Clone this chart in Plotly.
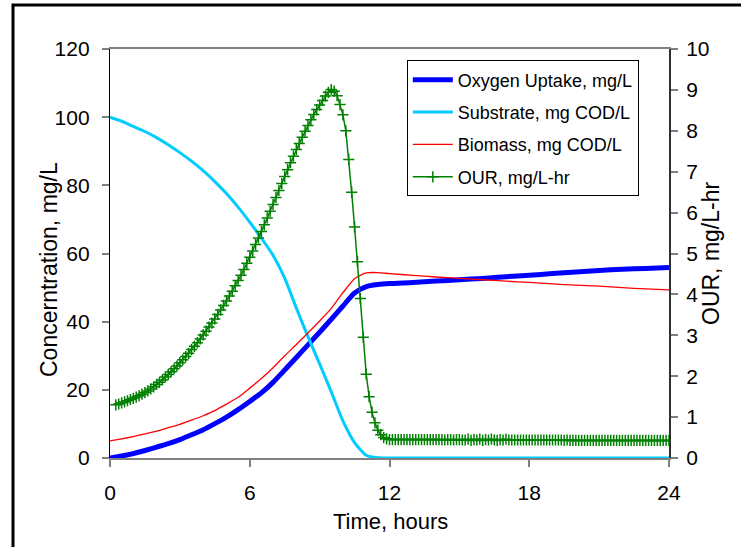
import numpy as np
import plotly.graph_objects as go

# Batch test: time in hours for the oxygen uptake, substrate and biomass curves
t_main = [0, 0.5, 1, 1.5, 2, 2.5, 3, 3.5, 4, 4.5, 5, 5.5, 6, 6.5, 7, 7.5, 8, 8.5,
          9, 9.5, 10, 10.5, 11, 11.5, 12, 13, 14, 15, 16, 17, 18, 19, 20, 21, 22, 23, 24]

oxygen_uptake = [0, 0.6, 1.3, 2.2, 3.2, 4.2, 5.4, 6.8, 8.3, 10.1, 12.0, 14.2, 16.6, 19.1,
                 22.2, 25.8, 29.5, 33.2, 36.9, 40.7, 44.6, 48.4, 50.3, 50.9, 51.2, 51.5,
                 51.9, 52.3, 52.7, 53.2, 53.6, 54.1, 54.6, 55.0, 55.4, 55.6, 55.9]

substrate = [100, 98.8, 97.3, 95.8, 94.0, 91.9, 89.6, 87.1, 84.3, 81.1, 77.6, 73.6, 69.2,
             64.5, 59.5, 52.8, 44.0, 35.6, 27.6, 19.4, 10.9, 4.5, 0.8, 0.05, 0, 0, 0, 0,
             0, 0, 0, 0, 0, 0, 0, 0, 0]

biomass = [5.0, 5.6, 6.3, 7.1, 7.9, 8.9, 9.9, 11.1, 12.4, 13.9, 15.8, 17.8, 20.5, 23.3,
           26.5, 30.0, 33.3, 36.7, 40.2, 43.9, 48.5, 52.6, 54.3, 54.4, 54.1, 53.6, 53.1,
           52.7, 52.3, 51.9, 51.5, 51.1, 50.7, 50.4, 50.0, 49.6, 49.3]

# Oxygen uptake rate, sampled every 7.5 min from 0.25 h to 24 h
t_our = np.arange(0.25, 24.0001, 0.125)
our = [
    1.30, 1.32, 1.35, 1.37, 1.40, 1.43,
    1.46, 1.49, 1.52, 1.56, 1.60, 1.64, 1.69, 1.74,
    1.80, 1.85, 1.91, 1.98, 2.04, 2.11, 2.18, 2.25,
    2.33, 2.40, 2.48, 2.56, 2.65, 2.73, 2.82, 2.91,
    3.01, 3.10, 3.20, 3.30, 3.40, 3.51, 3.62, 3.73,
    3.84, 3.96, 4.08, 4.21, 4.34, 4.47, 4.61, 4.76,
    4.91, 5.06, 5.22, 5.38, 5.54, 5.70, 5.87, 6.03,
    6.20, 6.37, 6.54, 6.71, 6.88, 7.05, 7.22, 7.38,
    7.54, 7.69, 7.84, 7.99, 8.13, 8.27, 8.40, 8.52,
    8.63, 8.74, 8.85, 8.94, 9.01,
    8.97, 8.86, 8.64, 8.39, 8.00, 7.30, 6.50, 5.65, 4.80, 3.90, 2.95, 2.05,
    1.50, 1.12, 0.86, 0.68, 0.57, 0.50, 0.47, 0.45,
    0.45, 0.45, 0.45, 0.45, 0.45, 0.45, 0.45,
    0.45, 0.45, 0.45, 0.45, 0.45, 0.45, 0.45, 0.45,
    0.45, 0.45, 0.45, 0.44, 0.45, 0.45, 0.44, 0.45,
    0.45, 0.44, 0.44, 0.46, 0.43, 0.45, 0.44, 0.46,
    0.43, 0.45, 0.44, 0.46, 0.44, 0.43, 0.45, 0.44,
    0.46, 0.44, 0.44, 0.44, 0.44, 0.44, 0.44, 0.44,
    0.44, 0.44, 0.44, 0.44, 0.44, 0.44, 0.44, 0.44,
    0.44, 0.44, 0.44, 0.44, 0.43, 0.44, 0.43, 0.43,
    0.43, 0.43, 0.43, 0.43, 0.43, 0.43, 0.43, 0.43,
    0.43, 0.43, 0.43, 0.43, 0.43, 0.43, 0.43, 0.43,
    0.43, 0.43, 0.43, 0.43, 0.43, 0.43, 0.43, 0.43,
    0.43, 0.43, 0.43, 0.43, 0.43, 0.43, 0.43, 0.43,
    0.43,
]
assert len(our) == len(t_our)

x_ticks = [0, 6, 12, 18, 24]
left_ticks = [0, 20, 40, 60, 80, 100, 120]
right_ticks = list(range(0, 11))

FONT = "Liberation Sans, Arial, sans-serif"

fig = go.Figure()
fig.add_trace(go.Scatter(x=t_main, y=oxygen_uptake, mode="lines", name="Oxygen Uptake, mg/L",
                         line=dict(color="#0000FF", width=5, shape="spline", smoothing=0.6),
                         legendgroup="a"))
fig.add_trace(go.Scatter(x=t_main, y=substrate, mode="lines", name="Substrate, mg COD/L",
                         line=dict(color="#00CCFF", width=3, shape="spline", smoothing=0.6),
                         legendgroup="b"))
fig.add_trace(go.Scatter(x=t_main, y=biomass, mode="lines", name="Biomass, mg COD/L",
                         line=dict(color="#FF0000", width=1.3, shape="spline", smoothing=0.6),
                         legendgroup="c"))
fig.add_trace(go.Scatter(x=t_our, y=our, mode="lines+markers", name="OUR, mg/L-hr", yaxis="y2",
                         line=dict(color="#008000", width=1.5),
                         marker=dict(symbol="cross-thin", size=8,
                                     line=dict(color="#008000", width=1.5)),
                         legendgroup="d"))

fig.update_layout(
    width=741, height=547,
    margin=dict(l=110, r=72, t=49, b=89),
    paper_bgcolor="white", plot_bgcolor="white",
    font=dict(family=FONT, size=21, color="black"),
    xaxis=dict(range=[0, 24], tickvals=x_ticks, ticks="outside", ticklen=7, tickwidth=1.5,
               tickcolor="#808080", showline=True, linecolor="#808080", linewidth=2,
               mirror=True, showgrid=False, zeroline=False, ticklabelstandoff=8),
    yaxis=dict(range=[0, 120], tickvals=left_ticks, ticks="outside", ticklen=7, tickwidth=1.5,
               tickcolor="#808080", showline=True, linecolor="black", linewidth=1.3,
               showgrid=False, zeroline=False, ticklabelstandoff=8),
    yaxis2=dict(range=[0, 10], tickvals=right_ticks, overlaying="y", side="right",
                ticks="outside", ticklen=7, tickwidth=1.5, tickcolor="#808080",
                showline=True, linecolor="#303030", linewidth=2, showgrid=False,
                zeroline=False, ticklabelstandoff=4),
    legend=dict(x=0.531, y=0.972, xanchor="left", yanchor="top", bgcolor="white",
                bordercolor="black", borderwidth=1, font=dict(size=18, family=FONT),
                itemwidth=40, tracegroupgap=6, traceorder="grouped"),
    annotations=[
        dict(text="Concerntration, mg/L", xref="paper", yref="paper",
             x=(49 - 110) / 559, y=(458 - 270) / 409, textangle=-90, showarrow=False,
             font=dict(size=23), xanchor="center", yanchor="middle"),
        dict(text="OUR, mg/L-hr", xref="paper", yref="paper",
             x=(711 - 110) / 559, y=(458 - 254) / 409, textangle=-90, showarrow=False,
             font=dict(size=23), xanchor="center", yanchor="middle"),
        dict(text="Time, hours", xref="paper", yref="paper",
             x=(390 - 110) / 559, y=(458 - 521) / 409, showarrow=False,
             font=dict(size=22), xanchor="center", yanchor="middle"),
    ],
    shapes=[
        dict(type="rect", xref="paper", yref="paper",
             x0=(13 - 110) / 559, x1=(760 - 110) / 559,
             y0=(458 - 580) / 409, y1=(458 - 5) / 409,
             line=dict(color="black", width=3), fillcolor="rgba(0,0,0,0)", layer="below"),
    ],
)

fig.write_html("out.html")
